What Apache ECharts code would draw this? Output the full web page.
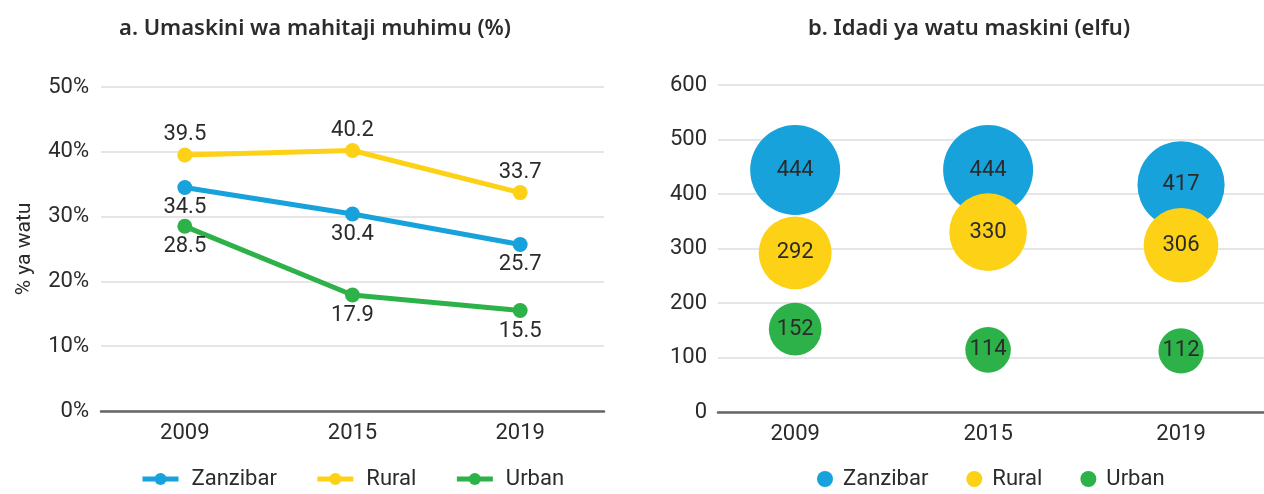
<!DOCTYPE html>
<html><head><meta charset="utf-8">
<script src="https://cdn.jsdelivr.net/npm/echarts@6/dist/echarts.min.js"></script>
<style>html,body{margin:0;padding:0;background:#fff}#c{width:1264px;height:494px}</style>
</head><body><div id="c"></div>
<script>
const years = ['2009', '2015', '2019'];
const seriesNames = ['Zanzibar', 'Rural', 'Urban'];
const pctZanzibar = [34.5, 30.4, 25.7];
const pctRural = [39.5, 40.2, 33.7];
const pctUrban = [28.5, 17.9, 15.5];
const numZanzibar = [444, 444, 417];
const numRural = [292, 330, 306];
const numUrban = [152, 114, 112];
const pctTicks = [0, 10, 20, 30, 40, 50];
const numTicks = [0, 100, 200, 300, 400, 500, 600];

const colors = ['#17a2dc', '#fdd116', '#2db24a'];
const FONT = 'Roboto';
const FS = 22;
const txt = '#2b2b2b';

const lineData = [pctZanzibar, pctRural, pctUrban];
const labelPos = ['bottom', 'top', 'bottom'];
const labelDist = [2, 2, 2];
const bubData = [numZanzibar, numRural, numUrban];

const series = [];
lineData.forEach((arr, i) => {
  series.push({
    type: 'line', name: seriesNames[i], xAxisIndex: 0, yAxisIndex: 0,
    data: arr, color: colors[i],
    lineStyle: {width: 5, color: colors[i]},
    symbol: 'circle', symbolSize: 15,
    itemStyle: {color: colors[i]},
    label: {show: true, position: labelPos[i], distance: labelDist[i], fontFamily: FONT, fontSize: FS, color: txt,
      formatter: p => p.value.toFixed(1)},
    emphasis: {disabled: true}
  });
});
bubData.forEach((arr, i) => {
  series.push({
    type: 'scatter', name: seriesNames[i], xAxisIndex: 1, yAxisIndex: 1,
    data: arr.map((v, j) => [j, v]), color: colors[i],
    symbol: 'circle',
    symbolSize: v => 4.27 * Math.sqrt(v[1]),
    itemStyle: {color: colors[i], opacity: 1},
    label: {show: true, position: 'inside', fontFamily: FONT, fontSize: FS, color: txt,
      formatter: p => String(p.value[1])},
    emphasis: {disabled: true}
  });
});

const chart = echarts.init(document.getElementById('c'), null, {renderer: 'canvas'});
chart.setOption({
  animation: false,
  textStyle: {fontFamily: FONT},
  title: [
    {text: 'a. Umaskini wa mahitaji muhimu (%)', left: 310, top: 13, textAlign: 'center',
      textStyle: {fontFamily: 'Noto Sans', fontSize: 22, fontWeight: 600, color: txt}},
    {text: 'b. Idadi ya watu maskini (elfu)', left: 964, top: 13, textAlign: 'center',
      textStyle: {fontFamily: 'Noto Sans', fontSize: 22, fontWeight: 600, color: txt}}
  ],
  legend: [
    {left: 135, top: 463, itemWidth: 36, itemHeight: 15, itemGap: 38,
      data: seriesNames.slice(),
      lineStyle: {width: 5},
      textStyle: {fontFamily: FONT, fontSize: FS, color: txt, padding: [0, 0, 0, 8]}},
    {left: 812, top: 463, itemWidth: 16, itemHeight: 16, itemGap: 38,
      data: seriesNames.map(n => ({name: n, icon: 'circle'})),
      textStyle: {fontFamily: FONT, fontSize: FS, color: txt, padding: [0, 0, 0, 5]}}
  ],
  grid: [
    {left: 101, top: 87, width: 503, bottom: 83},
    {left: 718, top: 85, right: 0, bottom: 82}
  ],
  xAxis: [
    {type: 'category', gridIndex: 0, data: years, boundaryGap: true,
      axisLine: {lineStyle: {color: '#666', width: 2.5}},
      axisTick: {show: false},
      axisLabel: {fontFamily: FONT, fontSize: FS, color: txt, margin: 11}},
    {type: 'value', gridIndex: 1, min: -0.4, max: 2.43,
      splitLine: {show: false},
      axisLine: {show: true, lineStyle: {color: '#666', width: 2.5}},
      axisTick: {show: false},
      axisLabel: {fontFamily: FONT, fontSize: FS, color: txt, margin: 11,
        customValues: [0, 1, 2], formatter: v => years[Math.round(v)]}}
  ],
  yAxis: [
    {type: 'value', gridIndex: 0, min: pctTicks[0], max: pctTicks[pctTicks.length - 1], interval: 10,
      name: '% ya watu', nameLocation: 'middle', nameGap: 66, nameRotate: 90,
      nameTextStyle: {fontFamily: FONT, fontSize: 21, color: txt},
      axisLine: {show: false}, axisTick: {show: false},
      splitLine: {lineStyle: {color: '#dcdcdc', width: 1.5}},
      axisLabel: {fontFamily: FONT, fontSize: FS, color: txt, margin: 12, formatter: v => v + '%'}},
    {type: 'value', gridIndex: 1, min: numTicks[0], max: numTicks[numTicks.length - 1], interval: 100,
      axisLine: {show: false}, axisTick: {show: false},
      splitLine: {lineStyle: {color: '#dcdcdc', width: 1.5}},
      axisLabel: {fontFamily: FONT, fontSize: FS, color: txt, margin: 11}}
  ],
  series: series
});
</script></body></html>
